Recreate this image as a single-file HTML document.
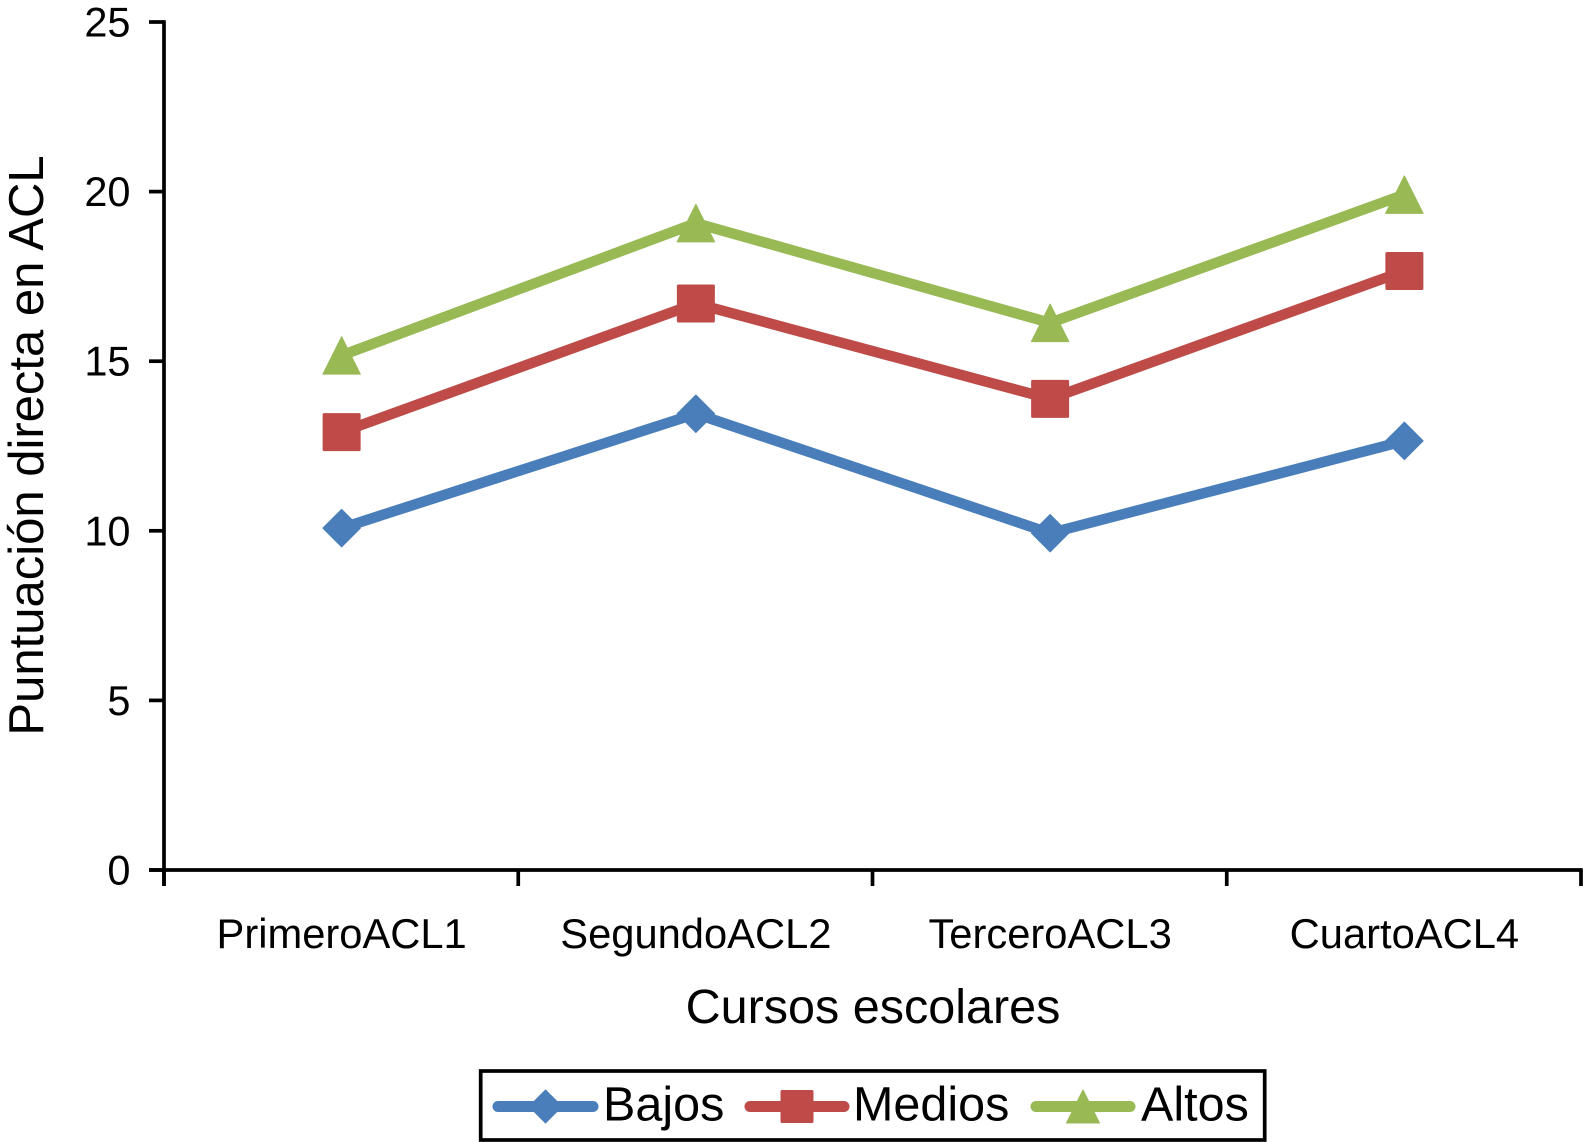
<!DOCTYPE html>
<html lang="es">
<head>
<meta charset="utf-8">
<title>Puntuación directa en ACL</title>
<style>
html,body{margin:0;padding:0;background:#fff;}
svg{display:block;}
text{font-family:"Liberation Sans",Arial,sans-serif;fill:#000;}
</style>
</head>
<body>
<svg id="chart" xmlns="http://www.w3.org/2000/svg" width="1583" height="1142" viewBox="0 0 1583 1142">
<rect x="0" y="0" width="1583" height="1142" fill="#fff"/>
<g id="axes"></g>
<g id="series"></g>
<text transform="translate(43,445.5) rotate(-90)" text-anchor="middle" font-size="49">Puntuación directa en ACL</text>
<text x="873" y="1023" text-anchor="middle" font-size="48.5">Cursos escolares</text>
<g id="legend">
<rect x="480.7" y="1071" width="784" height="69" fill="#fff" stroke="#000" stroke-width="3.7"/>
</g>
</svg>
<script>
const categories = ["PrimeroACL1", "SegundoACL2", "TerceroACL3", "CuartoACL4"];
const yTicks = [0, 5, 10, 15, 20, 25];
const bajos = [10.08, 13.45, 9.93, 12.65];
const medios = [12.91, 16.7, 13.89, 17.66];
const altos = [15.17, 19.07, 16.13, 19.91];
const seriesNames = ["Bajos", "Medios", "Altos"];

const NS = "http://www.w3.org/2000/svg";
const plot = { left: 164, right: 1581, top: 22, bottom: 870, yMax: 25 };
const colors = { Bajos: "#4A7EBB", Medios: "#BE4B48", Altos: "#98B954" };
const shapes = { Bajos: "diamond", Medios: "square", Altos: "triangle" };

function xBand() { return (plot.right - plot.left) / categories.length; }
function xScale(i) { return plot.left + xBand() * (i + 0.5) + 0.5; }
function yScale(v) { return plot.bottom - (v / plot.yMax) * (plot.bottom - plot.top); }

function make(tag, attrs, parent) {
  const el = document.createElementNS(NS, tag);
  for (const k in attrs) el.setAttribute(k, attrs[k]);
  parent.appendChild(el);
  return el;
}

function drawMarker(kind, cx, cy, size, color, parent) {
  const h = size / 2;
  let el;
  if (kind === "diamond") {
    el = make("polygon", { points: (cx) + "," + (cy - h) + " " + (cx + h) + "," + cy + " " + (cx) + "," + (cy + h) + " " + (cx - h) + "," + cy, fill: color, stroke: color, "stroke-width": 1, "stroke-linejoin": "round" }, parent);
  } else if (kind === "square") {
    el = make("rect", { x: cx - h, y: cy - h, width: size, height: size, rx: 1.5, fill: color }, parent);
  } else {
    el = make("polygon", { points: cx + "," + (cy - h) + " " + (cx + h) + "," + (cy + h) + " " + (cx - h) + "," + (cy + h), fill: color, stroke: color, "stroke-width": 1, "stroke-linejoin": "round" }, parent);
  }
  return el;
}

const axes = document.getElementById("axes");
const yAxisLine = make("line", { x1: plot.left, y1: plot.top - 1.7, x2: plot.left, y2: plot.bottom + 16, stroke: "#000", "stroke-width": 3.7 }, axes);


const xAxisLine = make("line", { x1: plot.left - 15, y1: plot.bottom, x2: plot.right + 1.7, y2: plot.bottom, stroke: "#000", "stroke-width": 3.7 }, axes);



yTicks.forEach(function (t) {
  const y = yScale(t);
  const tick = make("line", { x1: plot.left - 15, y1: y, x2: plot.left, y2: y, stroke: "#000", "stroke-width": 3.7 }, axes);
  
  
  const label = make("text", { x: 130.5, y: y + 14.5, "text-anchor": "end", "font-size": 41.5 }, axes);
  label.textContent = String(t);
  
  
});

for (let i = 0; i <= categories.length; i++) {
  const x = plot.left + xBand() * i;
  const tick = make("line", { x1: x, y1: plot.bottom, x2: x, y2: plot.bottom + 16, stroke: "#000", "stroke-width": 3.7 }, axes);
  
  
}
categories.forEach(function (c, i) {
  const label = make("text", { x: xScale(i), y: 948, "text-anchor": "middle", "font-size": 41.7 }, axes);
  label.textContent = c;
  
  
});

const seriesGroup = document.getElementById("series");
[bajos, medios, altos].forEach(function (values, s) {
  const name = seriesNames[s];
  const color = colors[name];
  const pts = values.map(function (v, i) { return xScale(i) + "," + yScale(v); }).join(" ");
  const line = make("polyline", { points: pts, fill: "none", stroke: color, "stroke-width": 10.5, "stroke-linejoin": "round", "stroke-linecap": "round" }, seriesGroup);
  
  
  values.forEach(function (v, i) {
    const size = shapes[name] === "square" ? 38 : 37.5;
    const m = drawMarker(shapes[name], xScale(i), yScale(v), size, color, seriesGroup);
    
    
  });
});

const legend = document.getElementById("legend");
const legendLineStart = [498, 750, 1036];
const legendLineEnd = [593, 844, 1130];
const legendTextX = [603, 853, 1141];
seriesNames.forEach(function (name, i) {
  const color = colors[name];
  const y = 1106.5;
  const line = make("line", { x1: legendLineStart[i], y1: y, x2: legendLineEnd[i], y2: y, stroke: color, "stroke-width": 11, "stroke-linecap": "round" }, legend);
  
  
  const marker = drawMarker(shapes[name], (legendLineStart[i] + legendLineEnd[i]) / 2, y, 33, color, legend);
  
  
  const label = make("text", { x: legendTextX[i], y: 1120.5, "font-size": 48.5 }, legend);
  label.textContent = name;
  
  
});
</script>
</body>
</html>
